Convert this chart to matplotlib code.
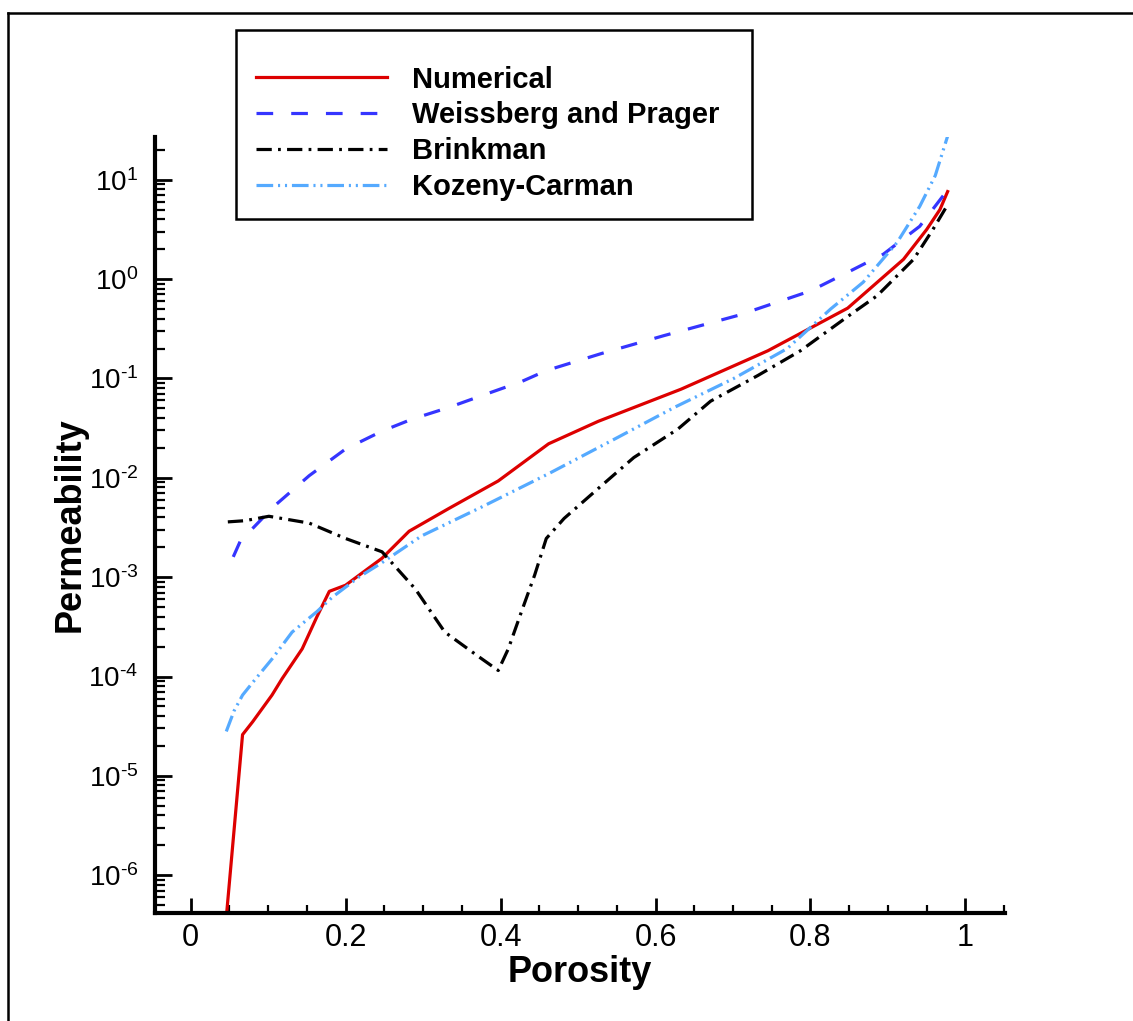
import numpy as np
import matplotlib
matplotlib.use("Agg")
import matplotlib.pyplot as plt
from matplotlib.lines import Line2D
from matplotlib.patches import Rectangle
from matplotlib.ticker import LogLocator, MultipleLocator, FixedLocator

# Permeability vs porosity
num_x = [0.044, 0.067, 0.080, 0.105, 0.118, 0.144, 0.163, 0.179, 0.200, 0.247,
         0.282, 0.333, 0.397, 0.462, 0.526, 0.633, 0.745, 0.848, 0.920, 0.950,
         0.967, 0.977]
num_y = [2.5e-7, 2.6e-5, 3.5e-5, 6.5e-5, 9.5e-5, 1.9e-4, 4.0e-4, 7.2e-4, 8.3e-4, 1.55e-3,
         2.9e-3, 4.9e-3, 9.3e-3, 2.2e-2, 3.7e-2, 7.8e-2, 0.19, 0.51, 1.58, 3.16,
         5.0, 7.6]

wp_x = [0.055, 0.064, 0.108, 0.153, 0.200, 0.247, 0.286, 0.333, 0.380, 0.427,
        0.459, 0.530, 0.611, 0.706, 0.800, 0.848, 0.894, 0.941, 0.977]
wp_y = [1.6e-3, 2.3e-3, 5.2e-3, 1.05e-2, 1.95e-2, 2.95e-2, 3.9e-2, 5.1e-2, 6.9e-2, 9.3e-2,
        0.12, 0.178, 0.27, 0.43, 0.76, 1.17, 1.78, 3.4, 7.9]

br_x = [0.048, 0.070, 0.101, 0.153, 0.200, 0.247, 0.290, 0.328, 0.371, 0.397,
        0.410, 0.427, 0.444, 0.459, 0.482, 0.526, 0.572, 0.629, 0.671, 0.732,
        0.787, 0.848, 0.886, 0.933, 0.958, 0.977]
br_y = [3.6e-3, 3.7e-3, 4.1e-3, 3.5e-3, 2.45e-3, 1.8e-3, 7.6e-4, 2.8e-4, 1.6e-4, 1.15e-4,
        1.9e-4, 4.5e-4, 1.05e-3, 2.45e-3, 3.9e-3, 7.8e-3, 1.6e-2, 3.1e-2, 5.9e-2, 0.107,
        0.19, 0.42, 0.68, 1.58, 3.16, 5.6]

kc_x = [0.046, 0.056, 0.067, 0.084, 0.105, 0.131, 0.163, 0.183, 0.217, 0.247,
        0.298, 0.376, 0.462, 0.547, 0.624, 0.701, 0.770, 0.826, 0.868, 0.912,
        0.941, 0.961, 0.977]
kc_y = [2.8e-5, 4.5e-5, 6.5e-5, 9.5e-5, 1.5e-4, 2.8e-4, 4.5e-4, 6.3e-4, 1.0e-3, 1.4e-3,
        2.6e-3, 5.1e-3, 1.1e-2, 2.45e-2, 5.1e-2, 0.1, 0.2, 0.5, 0.93, 2.35,
        5.4, 11.0, 27.5]

x_ticks = [0, 0.2, 0.4, 0.6, 0.8, 1]
x_ticklabels = ["0", "0.2", "0.4", "0.6", "0.8", "1"]
y_exps = [-6, -5, -4, -3, -2, -1, 0, 1]

plt.rcParams["font.family"] = ["Liberation Sans", "DejaVu Sans"]
plt.rcParams["mathtext.fontset"] = "custom"
plt.rcParams["mathtext.rm"] = "Liberation Sans"
plt.rcParams["mathtext.it"] = "Liberation Sans"
plt.rcParams["lines.scale_dashes"] = False

fig = plt.figure(figsize=(11.33, 10.21), dpi=100)
ax = fig.add_axes([0.1368, 0.1058, 0.7502, 0.760])

lw = 2.3
ax.plot(num_x, num_y, color="#dd0000", lw=lw, label="Numerical")
ax.plot(wp_x, wp_y, color="#3535ff", lw=lw, dashes=(12, 13), label="Weissberg and Prager")
ax.plot(br_x, br_y, color="black", lw=lw, dashes=(11, 4.5, 2, 4.5), label="Brinkman")
ax.plot(kc_x, kc_y, color="#55aaff", lw=lw, dashes=(12, 3.5, 1.5, 3.5, 1.5, 3.5),
        label="Kozeny-Carman")

ax.set_yscale("log")
ax.set_xlim(-0.046, 1.051)
ax.set_ylim(10 ** -6.38, 10 ** 1.43)

ax.xaxis.set_major_locator(FixedLocator(x_ticks))
ax.set_xticklabels(x_ticklabels)
ax.xaxis.set_minor_locator(MultipleLocator(0.05))
ax.yaxis.set_major_locator(FixedLocator([10.0 ** e for e in y_exps]))
# short hyphen in the exponent, as in the reference
ax.set_yticklabels([r"$\mathrm{10^{%s}}$" % str(e).replace("-", "\u2010") for e in y_exps])
ax.yaxis.set_minor_locator(LogLocator(base=10, subs=np.arange(2, 10), numticks=20))

for s in ["top", "right"]:
    ax.spines[s].set_visible(False)
for s in ["left", "bottom"]:
    ax.spines[s].set_linewidth(3)

ax.tick_params(which="major", direction="in", length=12, width=2)
ax.tick_params(which="minor", direction="in", length=7, width=1.6)
ax.tick_params(axis="x", which="major", length=11, pad=7, labelsize=22)
ax.tick_params(axis="x", which="minor", length=6)
ax.tick_params(axis="y", which="major", pad=12, labelsize=20)

ax.set_xlabel("Porosity", fontsize=26, fontweight="bold", labelpad=2)
ax.set_ylabel("Permeability", fontsize=26, fontweight="bold")
ax.yaxis.set_label_coords(-0.079, 0.5)

# legend box like the reference
fig.patches.append(Rectangle((236 / 1133, 1 - 219 / 1021), 516 / 1133, 189 / 1021,
                             transform=fig.transFigure, fill=False, lw=1.8,
                             edgecolor="black"))
fig.legend(loc="upper left", bbox_to_anchor=(241 / 1133, 1 - 51 / 1021),
           frameon=False, prop={"weight": "bold", "size": 21},
           handlelength=4.5, handletextpad=0.85, labelspacing=0.27, borderpad=0)

# outer frame lines (top and left)
fig.add_artist(Line2D([8 / 1133, 1.0], [1 - 13 / 1021, 1 - 13 / 1021],
                      transform=fig.transFigure, color="black", lw=1.8))
fig.add_artist(Line2D([8 / 1133, 8 / 1133], [0, 1 - 13 / 1021],
                      transform=fig.transFigure, color="black", lw=1.8))

fig.savefig("out.png", dpi=100)
